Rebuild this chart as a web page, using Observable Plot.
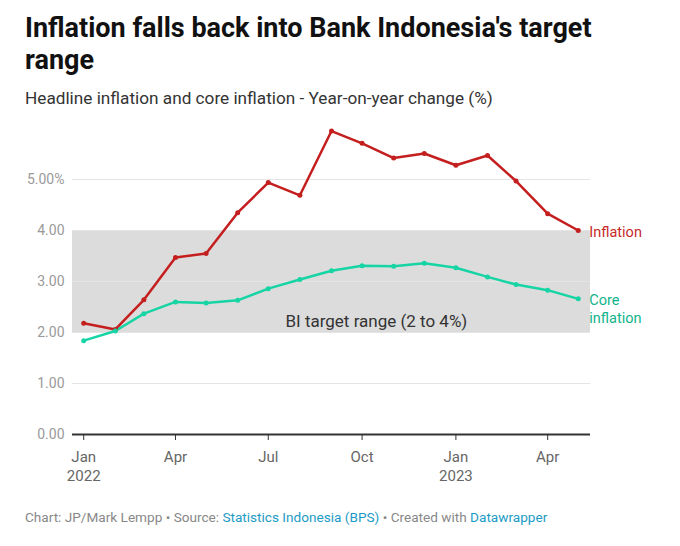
<!DOCTYPE html>
<html>
<head>
<meta charset="utf-8">
<script src="https://cdn.jsdelivr.net/npm/d3@7"></script>
<script src="https://cdn.jsdelivr.net/npm/@observablehq/plot@0.6"></script>
<style>
  body { margin: 0; background: #fff; font-family: Roboto, sans-serif; }
  #wrap { width: 680px; padding: 0; }
  h1 { margin: 0; padding: 12px 25px 0 25px; font-size: 27px; line-height: 32px; font-weight: 700; color: #111; width: 610px; }
  .sub { padding: 12px 25px 0 25px; font-size: 17.2px; color: #333; height: 22px; }
  .foot { padding: 0 25px; font-size: 13.6px; color: #888; margin-top: 23px; }
  .foot a { color: #1d9bc6; text-decoration: none; }
  #chart svg { display: block; }
</style>
</head>
<body>
<div id="wrap">
  <h1>Inflation falls back into Bank Indonesia's target range</h1>
  <div class="sub">Headline inflation and core inflation - Year-on-year change (%)</div>
  <div id="chart"></div>
  <div class="foot">Chart: JP/Mark Lempp • Source: <a>Statistics Indonesia (BPS)</a> • Created with <a>Datawrapper</a></div>
</div>
<script>
const months = ["2022-01","2022-02","2022-03","2022-04","2022-05","2022-06","2022-07","2022-08","2022-09","2022-10","2022-11","2022-12","2023-01","2023-02","2023-03","2023-04","2023-05"];
const inflation = [2.18,2.06,2.64,3.47,3.55,4.35,4.94,4.69,5.95,5.71,5.42,5.51,5.28,5.47,4.97,4.33,4.00];
const coreInflation = [1.84,2.03,2.37,2.60,2.58,2.63,2.86,3.04,3.21,3.31,3.30,3.36,3.27,3.09,2.94,2.83,2.66];
const seriesNames = ["Inflation", "Core\ninflation"];
const targetRange = [2, 4];
const targetLabel = "BI target range (2 to 4%)";
const targetLabelPos = ["2022-10-15", 2.22];
const yTicks = [0, 1, 2, 3, 4, 5];
const xTicks = ["2022-01","2022-04","2022-07","2022-10","2023-01","2023-04"];
const xDomain = ["2021-12-21", "2023-05-13"];

const parse = s => new Date(s.length === 7 ? s + "-01T00:00:00Z" : s + "T00:00:00Z");
const colors = ["#c41e1e", "#17d4a4"];
const textColors = ["#c62828", "#12b38c"];

const data = [];
months.forEach((m, i) => {
  data.push({date: parse(m), value: inflation[i], series: 0});
  data.push({date: parse(m), value: coreInflation[i], series: 1});
});
const lastDate = parse(months[months.length-1]);
const lastInfl = [{date: lastDate, value: inflation[inflation.length-1], series: 0}];
const lastCore = [{date: lastDate, value: coreInflation[coreInflation.length-1], series: 1}];

const chart = Plot.plot({
  width: 680,
  height: 376,
  marginLeft: 72,
  marginRight: 90,
  marginTop: 18,
  marginBottom: 52,
  style: {fontFamily: "Roboto, sans-serif", fontSize: "14px", background: "transparent", overflow: "visible"},
  x: {type: "utc", domain: xDomain.map(parse), axis: null},
  y: {domain: [0, 6], axis: null},
  marks: [
    Plot.rectY([targetRange], {y1: d => d[0], y2: d => d[1], fill: "#dcdcdc"}),
    Plot.gridY(yTicks.filter(d => d > 0), {stroke: "#e4e4e4", strokeOpacity: 1, strokeWidth: 1}),
    Plot.axisY(yTicks, {
      tickSize: 0, tickPadding: 8, fill: "#9a9a9a", fontSize: 14, label: null,
      tickFormat: d => d === 5 ? "5.00%" : d.toFixed(2),
      textAnchor: "end"
    }),
    Plot.text([targetLabel], {
      x: () => parse(targetLabelPos[0]), y: () => targetLabelPos[1],
      text: d => d, fill: "#333", fontSize: 17
    }),
    Plot.ruleY([0], {stroke: "#333", strokeWidth: 2}),
    Plot.axisX(xTicks.map(parse), {
      tickSize: 6, tickPadding: 8, stroke: "#333", fill: "#666", fontSize: 15, label: null,
      tickFormat: d => {
        const m = d3.utcFormat("%b")(d);
        return d.getUTCMonth() === 0 ? m + "\n" + d.getUTCFullYear() : m;
      },
      lineHeight: 1.27
    }),
    Plot.line(data, {x: "date", y: "value", z: "series", stroke: d => colors[d.series], strokeWidth: 2.5}),
    Plot.dot(data, {x: "date", y: "value", fill: d => colors[d.series], r: 2.5}),
    Plot.text(lastInfl, {
      x: "date", y: "value", text: d => seriesNames[d.series], fill: textColors[0],
      textAnchor: "start", dx: 11, dy: 2, fontSize: 14.5
    }),
    Plot.text(lastCore, {
      x: "date", y: "value", text: d => seriesNames[d.series], fill: textColors[1],
      textAnchor: "start", dx: 11, dy: 9, fontSize: 14.5, lineHeight: 1.25
    })
  ]
});
document.getElementById("chart").appendChild(chart);
</script>
</body>
</html>
